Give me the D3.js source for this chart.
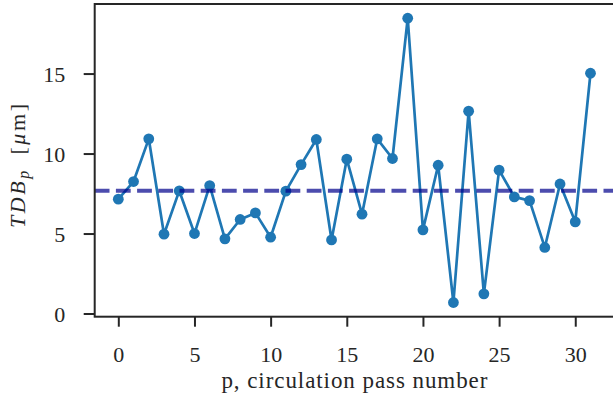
<!DOCTYPE html>
<html>
<head>
<meta charset="utf-8">
<script src="https://cdn.jsdelivr.net/npm/d3@7"></script>
<style>
  html, body { margin: 0; padding: 0; background: #fff; }
  svg { display: block; }
</style>
</head>
<body>
<svg id="chart" width="613" height="400"></svg>
<script>
// ---- data ----
const passNumbers = [0,1,2,3,4,5,6,7,8,9,10,11,12,13,14,15,16,17,18,19,20,21,22,23,24,25,26,27,28,29,30,31];
const tdbValues = [7.15,8.25,10.92,4.96,7.67,5.00,8.00,4.67,5.88,6.29,4.77,7.65,9.31,10.88,4.60,9.65,
                   6.21,10.92,9.69,18.46,5.23,9.27,0.69,12.65,1.23,8.96,7.29,7.06,4.13,8.10,5.73,15.02];
const meanValue = 7.67;
const xTickValues = [0,5,10,15,20,25,30];
const yTickValues = [0,5,10,15];
const xLabel = "p, circulation pass number";

// ---- layout ----
const mLeft = 94.7, mRight = 614.1, mTop = 4, mBottom = 316.7;
const serifFont = "'Liberation Serif'";
const svg = d3.select("#chart");

const xMin = d3.min(passNumbers), xMax = d3.max(passNumbers);
const xPad = (xMax - xMin) * 0.05;
const yMin = d3.min(tdbValues), yMax = d3.max(tdbValues);
const yPad = (yMax - yMin) * 0.05;

const x = d3.scaleLinear().domain([xMin - xPad, xMax + xPad]).range([mLeft, mRight]);
const y = d3.scaleLinear().domain([yMin - yPad, yMax + yPad]).range([mBottom, mTop]);

const blue = "#1f77b4";
const ink = "#262626";

// data line
const line = d3.line().x((d, i) => x(passNumbers[i])).y(d => y(d));
svg.append("path")
  .datum(tdbValues)
  .attr("d", line)
  .attr("fill", "none")
  .attr("stroke", blue)
  .attr("stroke-width", 2.7)
  .attr("stroke-linejoin", "round");

svg.append("g").selectAll("circle")
  .data(tdbValues)
  .join("circle")
  .attr("cx", (d, i) => x(passNumbers[i]))
  .attr("cy", d => y(d))
  .attr("r", 5.4)
  .attr("fill", blue);

// mean dashed line
svg.append("line")
  .attr("x1", mLeft).attr("x2", mRight)
  .attr("y1", y(meanValue)).attr("y2", y(meanValue))
  .attr("stroke", "#00008b")
  .attr("stroke-opacity", 0.7)
  .attr("stroke-width", 4)
  .attr("stroke-dasharray", "14.8,6.4");

// axes
const xAxis = svg.append("g")
  .attr("transform", `translate(0,${mBottom})`)
  .call(d3.axisBottom(x).tickValues(xTickValues).tickSize(10).tickFormat(d3.format("d")));
xAxis.attr("font-family", null).attr("font-size", null);
xAxis.select(".domain").remove();
xAxis.selectAll(".tick line").attr("stroke", ink).attr("stroke-width", 2);
xAxis.selectAll(".tick text")
  .attr("y", 45.5).attr("dy", 0)
  .style("font-size", "22px")
  .attr("fill", ink);

const yAxis = svg.append("g")
  .attr("transform", `translate(${mLeft},0)`)
  .call(d3.axisLeft(y).tickValues(yTickValues).tickSize(11).tickFormat(d3.format("d")));
yAxis.attr("font-family", null).attr("font-size", null);
yAxis.select(".domain").remove();
yAxis.selectAll(".tick line").attr("stroke", ink).attr("stroke-width", 2);
yAxis.selectAll(".tick text")
  .attr("x", -29.5).attr("dy", "0.34em")
  .style("font-size", "22px")
  .attr("fill", ink);

// spines
svg.append("rect")
  .attr("x", mLeft).attr("y", mTop)
  .attr("width", mRight - mLeft).attr("height", mBottom - mTop)
  .attr("fill", "none")
  .attr("stroke", ink)
  .attr("stroke-width", 2);

// x label
svg.append("text")
  .attr("x", (mLeft + mRight) / 2)
  .attr("y", 388)
  .attr("text-anchor", "middle")
  .attr("fill", ink)
  .style("font-size", "23px")
  .attr("textLength", 266)
  .attr("lengthAdjust", "spacing")
  .text(xLabel);

// y label: TDB_p [μm]
const yl = svg.append("text")
  .attr("transform", `translate(25,166) rotate(-90)`)
  .attr("text-anchor", "middle")
  .attr("fill", ink)
  .style("font-size", "22px")
  .attr("textLength", 124)
  .attr("lengthAdjust", "spacing");
yl.append("tspan").style("font-style", "italic").text("TDB");
yl.append("tspan").style("font-style", "italic").style("font-size", "16px").attr("dy", 4).text("p");
yl.append("tspan").attr("dy", -4).text("\u2002[");
yl.append("tspan").style("font-style", "italic").text("\u03bc");
yl.append("tspan").text("m]");

// force serif font on every text
svg.selectAll("text").style("font-family", serifFont);
</script>
</body>
</html>
